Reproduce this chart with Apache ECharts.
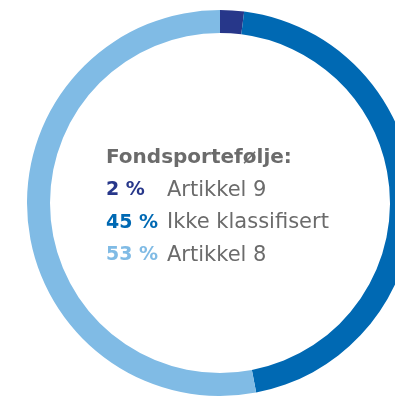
<!DOCTYPE html>
<html>
<head>
<meta charset="utf-8">
<script src="https://cdn.jsdelivr.net/npm/echarts@6/dist/echarts.min.js"></script>
<style>
  html, body { margin: 0; padding: 0; background: #ffffff; }
  #chart { width: 395px; height: 396px; }
</style>
</head>
<body>
<div id="chart"></div>
<script>
// Portfolio split by SFDR classification
const categories = ['Artikkel 9', 'Ikke klassifisert', 'Artikkel 8'];
const shares = [2, 45, 53];
const colors = ['#27378a', '#0069b3', '#80bbe5'];
const heading = 'Fondsportefølje:';

const textGray = '#6b6b6b';
const font = '"DejaVu Sans", sans-serif';

const rows = categories.map((name, i) => ({ name, value: shares[i], color: colors[i] }));

const graphics = [{
  type: 'text',
  left: 106,
  top: 148,
  style: { text: heading, fill: textGray, font: 'bold 20px ' + font }
}];
rows.forEach((r, i) => {
  const top = 180 + i * 32.5;
  graphics.push({
    type: 'text', left: 106, top: top + 1,
    style: { text: r.value + ' %', fill: r.color, font: 'bold 19px ' + font }
  });
  graphics.push({
    type: 'text', left: 167, top: top,
    style: { text: r.name, fill: textGray, font: '21px ' + font }
  });
});

const chart = echarts.init(document.getElementById('chart'), null, { renderer: 'canvas' });
chart.setOption({
  animation: false,
  series: [{
    type: 'pie',
    center: [220, 203],
    radius: [170, 193],
    startAngle: 90,
    clockwise: true,
    silent: true,
    label: { show: false },
    labelLine: { show: false },
    itemStyle: { borderWidth: 0 },
    data: rows.map(r => ({ name: r.name, value: r.value, itemStyle: { color: r.color } }))
  }],
  graphic: graphics
});
</script>
</body>
</html>
